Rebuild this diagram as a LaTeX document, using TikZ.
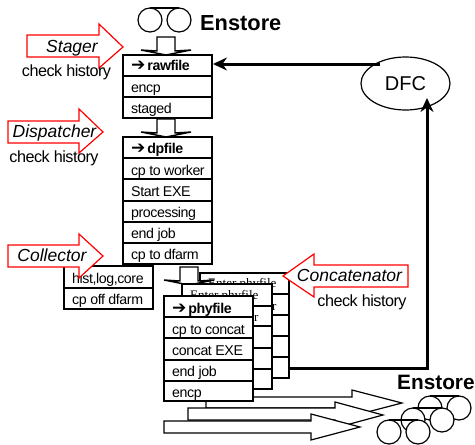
\documentclass[tikz,border=0pt]{standalone}
\usepackage{fontspec}
\setmainfont[LetterSpace=-3]{Liberation Sans}
\newfontfamily\plainfont{Liberation Sans}
\newfontfamily\djfont{DejaVu Sans}
\newfontfamily\tmsfont{Liberation Serif}
\usetikzlibrary{arrows.meta,shapes.geometric}
\tikzset{
 x=1pt,y=-1pt,
 rowbox/.style={draw=black,line width=1.4pt,fill=white},
 outerbox/.style={draw=black,line width=2.2pt},
 rowtxt/.style={anchor=base west,inner sep=0pt,font=\fontsize{14.2}{15}\selectfont},
 redarrow/.style={draw=red,line width=1.2pt,fill=white},
 redtxt/.style={anchor=base,inner sep=0pt,font=\plainfont\fontsize{17.5}{19}\selectfont\itshape},
 histtxt/.style={anchor=base,inner sep=0pt,font=\fontsize{16.2}{17}\selectfont},
 bigtxt/.style={inner sep=0pt,font=\plainfont\fontsize{21.8}{23}\selectfont\bfseries},
 serif/.style={anchor=base west,inner sep=0pt,font=\fontsize{13}{14}\selectfont\tmsfont},
 blockarrow/.style={draw=black,line width=1.2pt,fill=white},
 smallarrow/.style={draw=black,line width=1.4pt,fill=white},
 thick link/.style={draw=black,line width=3pt},
 tape/.style={draw=black,line width=1.2pt,fill=white},
}
\newcommand{\stackbox}[5]{% x0 x1 y0 y1 name
 \path[fill=white] (#1,#3) rectangle (#2,#4);
 \draw[outerbox] (#1,#3) rectangle (#2,#4);
 \coordinate (#5) at (#2,#3);}
\newcommand{\dnarrow}[3]{% xcentre ytop ybottom
 \draw[smallarrow] (#1-9,#2) -- (#1+9,#2) -- (#1+9,#3-4) -- (#1+25,#3-5) -- (#1,#3) -- (#1-25,#3-5) -- (#1-9,#3-4) -- cycle;}
\newcommand{\reel}[3]{% x1 x2 y
 \draw[tape] (#1,#3) circle (12);
 \draw[tape] (#2,#3) circle (12);
 \draw[black,line width=1.2pt] (#1,#3-12) -- (#2,#3-12);}
\newcommand{\arrowmark}{{\djfont\fontsize{17}{15}\selectfont ➔}\hspace{2pt}}
\begin{document}
\begin{tikzpicture}
\useasboundingbox (0,0) rectangle (475,445);
% top enstore
\reel{150}{179}{20}
\node[bigtxt,anchor=base west] (en1) at (200,30) {Enstore};
\dnarrow{166}{37}{55}
% raw
\stackbox{123}{212}{55}{118}{rawc}
\foreach \yy in {76,97} \draw[rowbox] (123,\yy) -- (212,\yy);
\node[rowtxt] (r1) at (131,70.7) {\arrowmark\textbf{rawfile}};
\node[rowtxt] (r2) at (131,92.5) {encp};
\node[rowtxt] (r3) at (131,113) {staged};
\dnarrow{166}{119}{137}
% dp
\stackbox{123}{212}{137}{264}{dpc}
\foreach \yy in {158,179,201,222,243} \draw[rowbox] (123,\yy) -- (212,\yy);
\node[rowtxt] (d1) at (131,153) {\arrowmark\textbf{dpfile}};
\node[rowtxt] (d2) at (131,175) {cp to worker};
\node[rowtxt] (d3) at (131,196.5) {Start EXE};
\node[rowtxt] (d4) at (131,217.5) {processing};
\node[rowtxt] (d5) at (131,238) {end job};
\node[rowtxt] (d6) at (131,259) {cp to dfarm};
% collector box
\stackbox{64}{153}{266}{309}{colc}
\draw[rowbox] (64,288) -- (153,288);
\node[rowtxt] (c1) at (72,283) {hist,log,core};
\node[rowtxt] (c2) at (72,304) {cp off dfarm};
% stack 3
\stackbox{200}{289}{273}{378}{s3}
\foreach \yy in {294,315,336,357} \draw[rowbox] (200,\yy) -- (289,\yy);
\node[serif] (t3) at (208,287.5) {Enter phyfile};
\node[serif] (f3) at (272,310) {r};
\dnarrow{189}{267}{285}
% stack 2
\stackbox{182}{272}{284}{389}{s2}
\foreach \yy in {306,326,348,369} \draw[rowbox] (182,\yy) -- (272,\yy);
\node[serif] (t2) at (190,299.5) {Enter phyfile};
\node[serif] (f2) at (254,321) {r};
% big arrows
\draw[blockarrow] (206,397) -- (352,397) -- (352,390) -- (402,403) -- (352,416) -- (352,408) -- (206,408) -- cycle;
\draw[blockarrow] (188,408) -- (335,408) -- (335,402) -- (383,415) -- (335,428) -- (335,420) -- (188,420) -- cycle;
\draw[blockarrow] (164,421) -- (311,421) -- (311,414) -- (360,427) -- (311,440) -- (311,433) -- (164,433) -- cycle;
% stack 1
\stackbox{164}{253}{296}{401}{s1}
\foreach \yy in {317,338,360,381} \draw[rowbox] (164,\yy) -- (253,\yy);
\node[rowtxt] (p1) at (172,313) {\arrowmark\textbf{phyfile}};
\node[rowtxt] (p2) at (172,334) {cp to concat};
\node[rowtxt] (p3) at (172,355) {concat EXE};
\node[rowtxt] (p4) at (172,376) {end job};
\node[rowtxt] (p5) at (172,397) {encp};
% DFC
\node[draw=black,line width=1.2pt,ellipse,minimum width=89pt,minimum height=53pt,inner sep=0pt,font=\plainfont\fontsize{20}{22}\selectfont] (dfc) at (405.5,83.5) {DFC};
\coordinate (dfcin) at (380,64);
\coordinate (rawin) at (213,64);
\draw[thick link,-{Stealth[length=14pt,width=13pt]}] (dfcin) -- (rawin);
\coordinate (s3out) at (289,368);
\coordinate (dfcbot) at (427,98);
\draw[thick link,-{Stealth[length=14pt,width=13pt]}] (s3out) -| (dfcbot);
% lower enstore
\reel{430}{459}{408}
\reel{413}{442}{420}
\reel{389}{418}{432}
\node[bigtxt,anchor=base west,font=\plainfont\fontsize{20.8}{23}\selectfont\bfseries] (en2) at (397,389) {Enstore};
% red arrows
\draw[redarrow] (27,35) -- (99,35) -- (99,24) -- (123,47) -- (99,68) -- (99,57) -- (27,57) -- cycle;
\node[redtxt] (sg) at (72,52.7) {Stager};
\node[histtxt] (h1) at (66.5,76) {check history};
\draw[redarrow] (8,121) -- (79,121) -- (79,109) -- (103,132) -- (79,153) -- (79,143) -- (8,143) -- cycle;
\node[redtxt] (dp) at (54.5,137) {Dispatcher};
\node[histtxt] (h2) at (54,162) {check history};
\draw[redarrow] (8,245) -- (79,245) -- (79,234) -- (103,256) -- (79,278) -- (79,267) -- (8,267) -- cycle;
\node[redtxt] (cl) at (52,261.7) {Collector};
\draw[redarrow] (408,265) -- (314,265) -- (314,254) -- (283,276) -- (314,297) -- (314,287) -- (408,287) -- cycle;
\node[redtxt] (cc) at (349.5,281) {Concatenator};
\node[histtxt] (h3) at (362,306) {check history};
\end{tikzpicture}
\end{document}
